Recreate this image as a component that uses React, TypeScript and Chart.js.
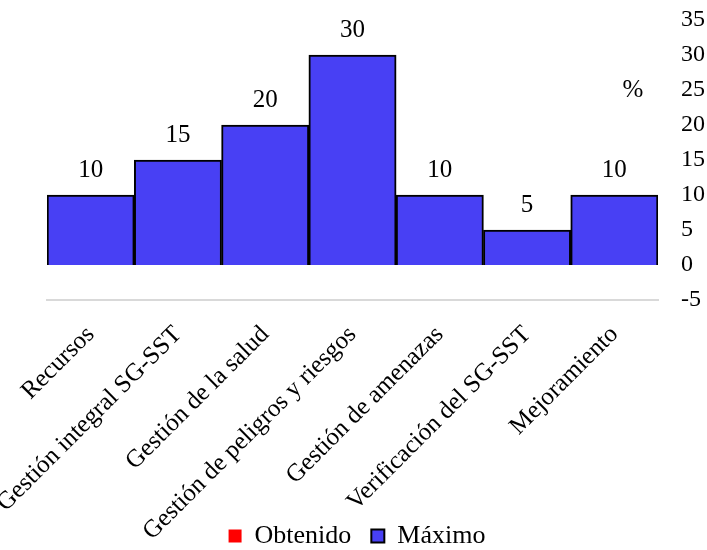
import React, { useEffect, useRef } from "react";
import { Chart, registerables } from "chart.js";

Chart.register(...registerables);

const categories = [
  "Recursos",
  "Gestión integral SG-SST",
  "Gestión de la salud",
  "Gestión de peligros y riesgos",
  "Gestión de amenazas",
  "Verificación del SG-SST",
  "Mejoramiento",
];
const obtenido: (number | null)[] = [null, null, null, null, null, null, null];
const maximo = [10, 15, 20, 30, 10, 5, 10];
const yMin = -5;
const yMax = 35;
const yStep = 5;
const unitLabel = "%";

const FONT = "'Liberation Serif', serif";

const labelPlugin = {
  id: "valueLabels",
  afterLayout(chart: any) {
    // let rotated category labels run over the legend band (no clipping)
    chart.scales.x.bottom = chart.height;
    if (chart.legend) {
      chart.legend.top += 9;
      chart.legend.bottom += 9;
      chart.legend.left -= 20;
      chart.legend.right -= 20;
    }
  },
  afterDatasetsDraw(chart: any) {
    const ctx = chart.ctx;
    const meta = chart.getDatasetMeta(1);
    ctx.save();
    ctx.font = `25px ${FONT}`;
    ctx.fillStyle = "#000";
    ctx.textAlign = "center";
    ctx.textBaseline = "middle";
    meta.data.forEach((bar: any, i: number) => {
      ctx.fillText(String(maximo[i]), bar.x, bar.y - 25);
    });
    const ys = chart.scales.y;
    ctx.fillText(unitLabel, chart.chartArea.right - 25, ys.getPixelForValue(25));
    ctx.restore();
  },
};

export default function App() {
  const ref = useRef<HTMLCanvasElement>(null);
  useEffect(() => {
    const chart = new Chart(ref.current!, {
      type: "bar",
      data: {
        labels: categories,
        datasets: [
          {
            label: "Obtenido",
            data: obtenido,
            backgroundColor: "#ff0000",
            borderWidth: 0,
            grouped: false,
            barPercentage: 1,
            categoryPercentage: 1,
          } as any,
          {
            label: "Máximo",
            data: maximo,
            backgroundColor: "#4840F4",
            borderColor: "#000000",
            borderWidth: 2,
            grouped: false,
            barPercentage: 1,
            categoryPercentage: 1,
          } as any,
        ],
      },
      options: {
        animation: false,
        responsive: true,
        maintainAspectRatio: false,
        layout: { padding: { top: 20, left: 47, right: 0, bottom: 0 } },
        plugins: {
          legend: {
            position: "bottom",
            labels: {
              font: { family: FONT, size: 26 },
              color: "#000",
              boxWidth: 13,
              boxHeight: 13,
              padding: 20,
            },
          },
          tooltip: { enabled: false },
        },
        scales: {
          x: {
            grid: { display: false, drawTicks: false },
            border: { display: true, color: "#d9d9d9", width: 2 },
            ticks: {
              color: "#000",
              font: { family: FONT, size: 25 },
              minRotation: 45,
              maxRotation: 45,
              autoSkip: false,
              padding: 20,
            },
            afterFit(s: any) {
              s.height = 194;
              s.paddingLeft = 0;
              s.paddingRight = 0;
            },
          },
          y: {
            position: "right",
            min: yMin,
            max: yMax,
            grid: { display: false, drawTicks: false },
            border: { display: false },
            ticks: {
              stepSize: yStep,
              color: "#000",
              font: { family: FONT, size: 24 },
              padding: 23,
            },
            afterFit(s: any) {
              s.width = 49;
              s.paddingTop = 0;
              s.paddingBottom = 0;
            },
          },
        },
      },
      plugins: [labelPlugin],
    });
    return () => chart.destroy();
  }, []);
  return (
    <div style={{ position: "absolute", left: 0, top: 0, width: 707, height: 550 }}>
      <canvas ref={ref} />
    </div>
  );
}
